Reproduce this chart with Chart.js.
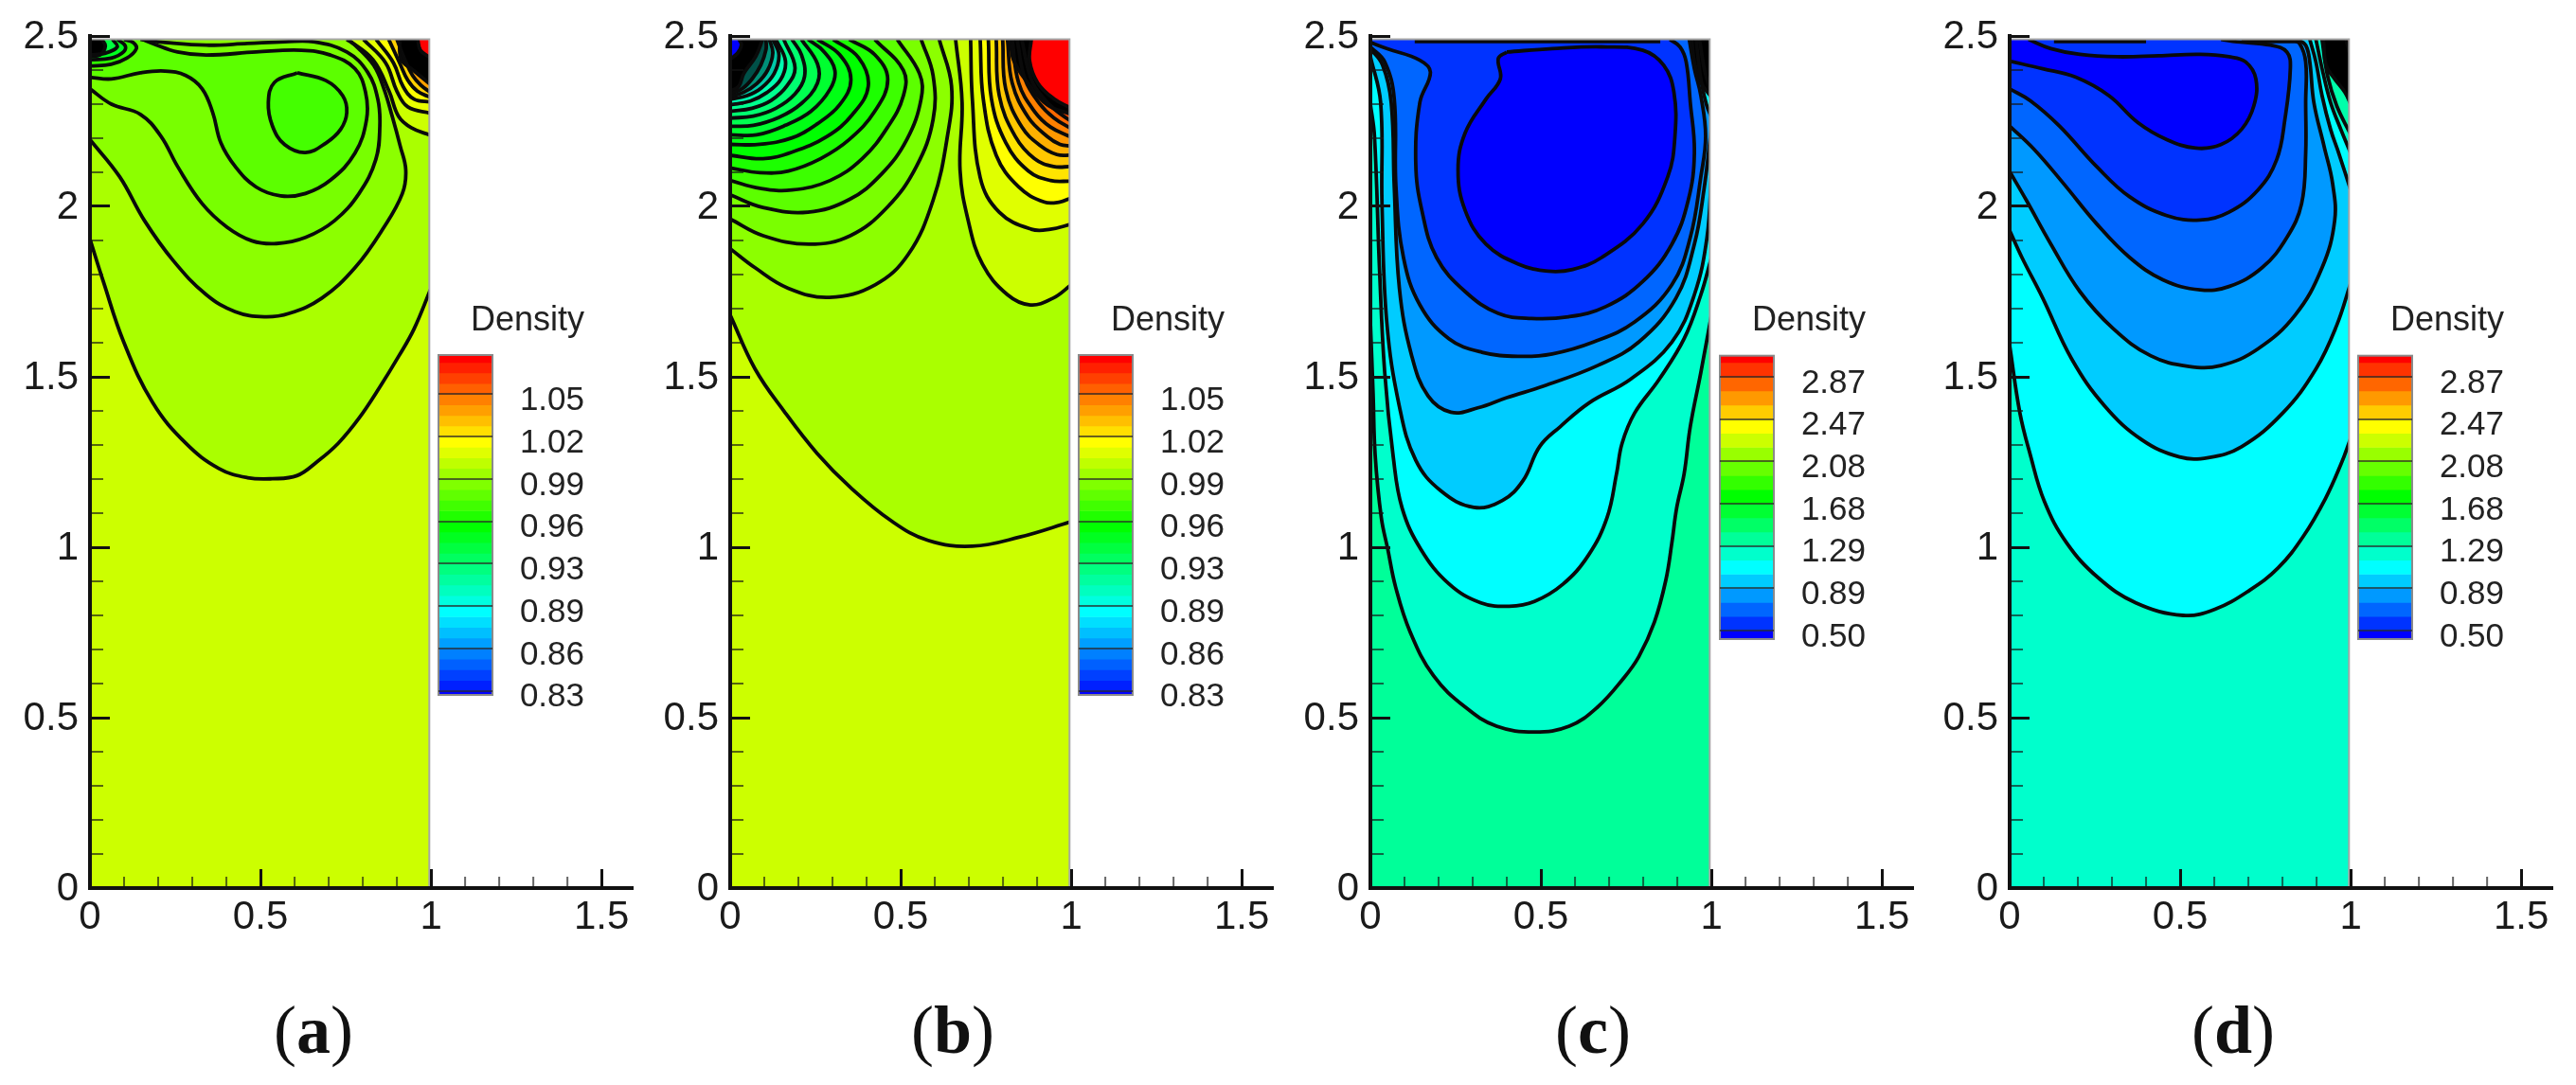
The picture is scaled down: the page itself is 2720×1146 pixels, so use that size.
<!DOCTYPE html>
<html>
<head>
<meta charset="utf-8">
<title>Density contours</title>
<script src="https://cdn.jsdelivr.net/npm/chart.js@4"></script>
<style>
  html, body { margin: 0; padding: 0; background: #fff; width: 2720px; height: 1146px; overflow: hidden; }
  canvas { position: absolute; filter: blur(0.6px); }
  .cap { position: absolute; top: 1088px; transform: translate(-50%, -50%); font: 72px/1 "Liberation Serif", serif; color: #111; }
  .cap b { font-weight: bold; }
</style>
</head>
<body>
<canvas id="plotA" width="669" height="1010" style="left:0;top:0"></canvas>
<canvas id="plotB" width="669" height="1010" style="left:676px;top:0"></canvas>
<canvas id="plotC" width="669" height="1010" style="left:1352px;top:0"></canvas>
<canvas id="plotD" width="669" height="1010" style="left:2027px;top:0"></canvas>
<canvas id="barA" width="158" height="447" style="left:461px;top:317px"></canvas>
<canvas id="barB" width="158" height="447" style="left:1137px;top:317px"></canvas>
<canvas id="barC" width="158" height="388" style="left:1814px;top:317px"></canvas>
<canvas id="barD" width="158" height="388" style="left:2488px;top:317px"></canvas>
<div class="cap" style="left:331px">(<b>a</b>)</div>
<div class="cap" style="left:1006px">(<b>b</b>)</div>
<div class="cap" style="left:1682px">(<b>c</b>)</div>
<div class="cap" style="left:2358px">(<b>d</b>)</div>

<script>
// axis ticks
const xTicks = [0, 0.5, 1, 1.5];
const yTicks = [0, 0.5, 1, 1.5, 2, 2.5];
const xMinor = [0.1, 0.2, 0.3, 0.4, 0.6, 0.7, 0.8, 0.9, 1.1, 1.2, 1.3, 1.4];
const yMinor = [0.1, 0.2, 0.3, 0.4, 0.6, 0.7, 0.8, 0.9, 1.1, 1.2, 1.3, 1.4, 1.6, 1.7, 1.8, 1.9, 2.1, 2.2, 2.3, 2.4];

// domain is cut a bit short of the ticks in the picture
const TOP = 2.49;
const RIGHT = 0.995;
const frame = [[0, TOP], [RIGHT, TOP], [RIGHT, 0]];

// panel (a) contour lines, [x, y]
const a1 = [[0,1.904],[.039,1.78],[.099,1.602],[.184,1.424],[.281,1.305],[.378,1.231],[.462,1.204],[.535,1.201],[.607,1.21],[.665,1.25],[.728,1.305],[.79,1.38],[.85,1.47],[.905,1.56],[.95,1.64],[1,1.76]];
const a2 = [[0,2.196],[.087,2.087],[.16,1.958],[.245,1.84],[.341,1.741],[.426,1.691],[.511,1.676],[.584,1.686],[.68,1.731],[.777,1.82],[.862,1.939],[.916,2.038],[.926,2.107],[.91,2.176],[.886,2.265],[.862,2.345],[.832,2.414],[.777,2.473],[.753,2.49]];
const a3 = [[0,2.345],[.063,2.3],[.148,2.27],[.208,2.206],[.257,2.117],[.329,2.008],[.402,1.939],[.475,1.899],[.547,1.891],[.632,1.909],[.717,1.958],[.789,2.038],[.838,2.137],[.85,2.236],[.844,2.315],[.814,2.394],[.753,2.453],[.656,2.483],[.571,2.483],[.462,2.478],[.341,2.473],[.22,2.481],[.148,2.49]];
const a4 = [[0,2.379],[.063,2.374],[.148,2.392],[.22,2.397],[.281,2.384],[.329,2.345],[.36,2.275],[.384,2.186],[.426,2.117],[.487,2.057],[.559,2.031],[.632,2.038],[.705,2.077],[.777,2.156],[.811,2.255],[.808,2.335],[.777,2.404],[.705,2.444],[.62,2.458],[.487,2.453],[.341,2.444],[.257,2.453],[.184,2.478],[.154,2.49]];
const a5 = [[.608,2.392],[.692,2.369],[.741,2.325],[.753,2.275],[.735,2.226],[.692,2.186],[.632,2.158],[.571,2.181],[.535,2.236],[.523,2.305],[.541,2.364],[.608,2.392]];
const aLeft1 = [[0,2.412],[.062,2.417],[.108,2.435],[.136,2.463],[.126,2.481],[.1,2.49]];
const aLeft2 = [[0,2.43],[.062,2.435],[.099,2.454],[.103,2.472],[.08,2.49]];
const aLeft3 = [[0,2.444],[.043,2.449],[.08,2.468],[.066,2.49]];
const aLeftDense = [[0,2.44],[.03,2.445],[.045,2.47],[.035,2.49]];
const aRight1 = [[.756,2.49],[.83,2.43],[.877,2.338],[.905,2.264],[.942,2.231],[1,2.208]];
const aRight2 = [[.802,2.49],[.867,2.421],[.9,2.338],[.932,2.292],[1,2.273]];
const aRight3 = [[.839,2.49],[.89,2.421],[.918,2.352],[.95,2.315],[1,2.306]];
const aRight4 = [[.876,2.49],[.908,2.421],[.932,2.37],[.96,2.338],[1,2.319]];
const aRight5 = [[.9,2.49],[.923,2.431],[.946,2.384],[.97,2.356],[1,2.333]];
const aRightDense = [[.908,2.49],[.913,2.431],[.95,2.398],[1,2.356]];
const aRightRed = [[.961,2.49],[.969,2.458],[1,2.435]];
const contoursA = [a1, a2, a3, a4, a5, aLeft1, aLeft2, aLeft3, aLeftDense, aRight1, aRight2, aRight3, aRight4, aRight5, aRightDense, aRightRed];
const colorsA = ['#aaff00', '#8cff00', '#78ff00', '#5cff00', '#44ff00', '#30ff00', '#00ff20', '#00ff40', '#000000', '#ccff00', '#e8ff00', '#ffff00', '#ffd000', '#ffa000', '#000000', '#ff0000'];
const baseA = '#ccff00';

// panel (b) contour lines
const b0 = [[0,1.681],[.073,1.523],[.158,1.399],[.255,1.275],[.352,1.176],[.473,1.077],[.58,1.02],[.71,1.003],[.85,1.03],[1,1.075]];
const bL1 = [[0,1.876],[.073,1.82],[.17,1.76],[.291,1.733],[.425,1.77],[.522,1.859],[.595,2.018],[.637,2.206],[.649,2.354],[.613,2.49]];
const bL2 = [[0,1.963],[.097,1.914],[.231,1.889],[.352,1.914],[.461,1.998],[.546,2.117],[.595,2.255],[.595,2.384],[.56,2.49]];
const bL3 = [[0,2.034],[.096,1.997],[.228,1.983],[.349,2.02],[.443,2.094],[.518,2.196],[.56,2.316],[.555,2.39],[.49,2.49]];
const bL4 = [[0,2.076],[.087,2.053],[.181,2.048],[.293,2.076],[.387,2.14],[.462,2.233],[.508,2.325],[.508,2.399],[.424,2.49]];
const bL5 = [[0,2.113],[.087,2.099],[.171,2.104],[.265,2.14],[.349,2.196],[.424,2.279],[.462,2.372],[.424,2.445],[.349,2.49]];
const bL6 = [[0,2.15],[.096,2.14],[.181,2.159],[.284,2.205],[.359,2.27],[.405,2.353],[.377,2.436],[.302,2.49]];
const bL7 = [[0,2.182],[.087,2.182],[.181,2.201],[.255,2.242],[.321,2.298],[.354,2.372],[.321,2.445],[.256,2.49]];
const bL8 = [[0,2.21],[.078,2.21],[.162,2.238],[.237,2.279],[.293,2.344],[.307,2.399],[.274,2.455],[.228,2.49]];
const bL9 = [[0,2.235],[.068,2.238],[.143,2.261],[.209,2.302],[.256,2.362],[.256,2.418],[.209,2.49]];
const bL10 = [[0,2.259],[.068,2.265],[.134,2.288],[.19,2.33],[.218,2.381],[.209,2.445],[.181,2.49]];
const bL11 = [[0,2.279],[.064,2.288],[.12,2.311],[.166,2.353],[.19,2.408],[.157,2.49]];
const bL12 = [[0,2.298],[.059,2.309],[.106,2.333],[.148,2.372],[.162,2.427],[.134,2.49]];
const bL13 = [[0,2.314],[.05,2.325],[.092,2.348],[.129,2.39],[.143,2.445],[.125,2.49]];
const bL14 = [[0,2.322],[.04,2.335],[.078,2.36],[.11,2.4],[.125,2.45],[.115,2.49]];
const bL15 = [[0,2.33],[.035,2.345],[.065,2.375],[.09,2.415],[.105,2.46],[.105,2.49]];
const bLeftDense = [[0,2.338],[.025,2.352],[.04,2.39],[.075,2.44],[.095,2.49]];
const bLeftBlue = [[0,2.432],[.022,2.45],[.033,2.474],[.026,2.49]];
const bR1 = [[.661,2.49],[.68,2.305],[.674,2.107],[.698,1.958],[.74,1.83],[.813,1.741],[.88,1.711],[.947,1.731],[1,1.77]];
const bR2 = [[.705,2.49],[.71,2.316],[.733,2.085],[.789,1.983],[.883,1.933],[.939,1.933],[1,1.948]];
const bR3 = [[.733,2.49],[.742,2.316],[.78,2.15],[.846,2.057],[.92,2.013],[.967,2.013],[1,2.025]];
const bR4 = [[.757,2.49],[.766,2.316],[.808,2.187],[.874,2.104],[.939,2.076],[1,2.074]];
const bR5 = [[.78,2.49],[.789,2.325],[.836,2.205],[.892,2.14],[.948,2.117],[1,2.117]];
const bR6 = [[.799,2.49],[.808,2.344],[.855,2.233],[.911,2.177],[.958,2.152],[1,2.15]];
const bR7 = [[.813,2.49],[.827,2.362],[.874,2.261],[.93,2.205],[.967,2.182],[1,2.177]];
const bR8 = [[.827,2.49],[.846,2.362],[.892,2.279],[.939,2.233],[1,2.203]];
const bR9 = [[.841,2.49],[.865,2.372],[.907,2.302],[.949,2.26],[1,2.228]];
const bR10 = [[.855,2.49],[.883,2.372],[.92,2.316],[.958,2.279],[1,2.25]];
const bRightDense = [[.822,2.49],[.831,2.429],[.873,2.362],[.93,2.298],[1,2.27]];
const bRightRed = [[.883,2.49],[.878,2.427],[.902,2.362],[.949,2.316],[1,2.288]];
const contoursB = [b0, bL1, bL2, bL3, bL4, bL5, bL6, bL7, bL8, bL9, bL10, bL11, bL12, bL13, bL14, bL15, bLeftDense, bLeftBlue, bR1, bR2, bR3, bR4, bR5, bR6, bR7, bR8, bR9, bR10, bRightDense, bRightRed];
const colorsB = ['#aaff00', '#8cff00', '#7aff00', '#5cff00', '#3cff00', '#1cff00', '#00ff00', '#00ff14', '#00ff30', '#00ff50', '#00ff70', '#00ff90', '#00ffb0', '#00c8a8', '#009078', '#005048', '#000000', '#0000ff', '#ccff00', '#e0ff00', '#ffff00', '#ffe400', '#ffc800', '#ffb000', '#ff9800', '#ff8000', '#ff6800', '#ff4800', '#000000', '#ff0000'];
const baseB = '#ccff00';

// panel (c) contour lines
const c1 = [[0,1.66],[.008,1.45],[.014,1.27],[.032,1.087],[.051,.994],[.074,.883],[.116,.753],[.185,.623],[.278,.531],[.37,.475],[.481,.458],[.583,.475],[.665,.53],[.741,.614],[.787,.679],[.833,.781],[.866,.902],[.884,1.013],[.898,1.115],[.92,1.216],[.938,1.354],[.969,1.513],[1,1.681]];
const c2 = [[0,2.3],[.012,2.206],[.027,1.81],[.042,1.513],[.067,1.265],[.093,1.115],[.148,.994],[.231,.892],[.324,.837],[.407,.827],[.481,.841],[.565,.892],[.639,.976],[.694,1.087],[.722,1.217],[.738,1.305],[.775,1.394],[.847,1.493],[.92,1.612],[.969,1.741],[1,1.85]];
const c3 = [[0,2.44],[.03,2.305],[.034,2.008],[.048,1.661],[.085,1.413],[.133,1.255],[.206,1.166],[.303,1.117],[.387,1.137],[.448,1.196],[.496,1.295],[.557,1.354],[.642,1.424],[.763,1.493],[.884,1.602],[.95,1.741],[.987,1.909],[1,2.097]];
const c4 = [[0,2.463],[.036,2.414],[.061,2.305],[.07,2.057],[.085,1.76],[.121,1.562],[.169,1.444],[.236,1.396],[.315,1.409],[.4,1.439],[.508,1.473],[.666,1.533],[.787,1.602],[.896,1.731],[.95,1.889],[.978,2.048],[1,2.231]];
const c5 = [[0,2.468],[.042,2.424],[.07,2.315],[.075,2.057],[.097,1.85],[.145,1.711],[.23,1.612],[.327,1.572],[.436,1.56],[.533,1.567],[.654,1.602],[.775,1.661],[.884,1.77],[.938,1.909],[.969,2.087],[.983,2.206],[.969,2.325],[.95,2.404],[.935,2.49]];
const c6 = [[0,2.481],[.048,2.463],[.145,2.429],[.176,2.394],[.145,2.305],[.133,2.127],[.151,1.988],[.194,1.85],[.278,1.75],[.375,1.686],[.472,1.671],[.581,1.676],[.69,1.706],[.799,1.78],[.884,1.889],[.932,2.018],[.95,2.156],[.938,2.305],[.926,2.424],[.908,2.468],[.878,2.49]];
const c7 = [[.4,2.453],[.533,2.463],[.678,2.468],[.799,2.458],[.86,2.414],[.89,2.335],[.893,2.206],[.872,2.087],[.799,1.949],[.678,1.85],[.593,1.815],[.521,1.81],[.436,1.83],[.339,1.889],[.278,1.988],[.257,2.107],[.278,2.216],[.339,2.315],[.381,2.374],[.375,2.434],[.4,2.453]];
const cRight1 = [[.955,2.49],[.968,2.38],[.985,2.3],[1,2.262]];
const cRight2 = [[.965,2.49],[.98,2.4],[1,2.33]];
const cRightDense = [[.942,2.49],[.95,2.424],[.969,2.364],[1,2.32]];
const cRightRed = [[.99,2.49],[1,2.47]];
const contoursC = [c1, c2, c3, c4, c5, c6, c7, cRight1, cRight2, cRightDense, cRightRed];
const colorsC = ['#00ffcc', '#00ffff', '#00ccff', '#0099ff', '#0066ff', '#0033ff', '#0000ff', '#00ffff', '#00ff99', '#000000', '#ff0000'];
const baseC = '#00ff99';
const cTopLine = [[.13,2.484],[.5,2.484],[.85,2.484]];

// panel (d) contour lines
const d1 = [[0,1.592],[.03,1.394],[.06,1.273],[.102,1.134],[.167,1.013],[.259,.911],[.37,.837],[.509,.8],[.602,.818],[.704,.874],[.787,.939],[.861,1.032],[.926,1.143],[.972,1.245],[1,1.32]];
const d2 = [[0,1.929],[.036,1.85],[.097,1.731],[.182,1.552],[.279,1.414],[.388,1.315],[.498,1.265],[.583,1.263],[.68,1.295],[.801,1.394],[.898,1.523],[.959,1.651],[1,1.775]];
const d3 = [[0,2.102],[.049,2.018],[.121,1.889],[.206,1.75],[.303,1.642],[.413,1.562],[.522,1.531],[.619,1.533],[.728,1.582],[.837,1.681],[.916,1.82],[.953,1.958],[.947,2.067],[.922,2.176],[.892,2.305],[.88,2.424],[.868,2.473],[.843,2.49]];
const d4 = [[0,2.236],[.073,2.166],[.158,2.067],[.255,1.949],[.352,1.85],[.449,1.785],[.558,1.755],[.643,1.765],[.74,1.82],[.813,1.909],[.856,2.008],[.868,2.156],[.868,2.305],[.868,2.424],[.85,2.478],[.825,2.49]];
const d5 = [[0,2.345],[.061,2.31],[.146,2.236],[.255,2.117],[.352,2.028],[.461,1.973],[.558,1.96],[.643,1.983],[.728,2.048],[.783,2.137],[.807,2.255],[.823,2.404],[.813,2.453],[.765,2.473],[.667,2.483],[.62,2.49]];
const d6 = [[.055,2.49],[.121,2.463],[.206,2.446],[.316,2.439],[.437,2.442],[.558,2.446],[.643,2.439],[.692,2.424],[.722,2.374],[.716,2.295],[.68,2.226],[.619,2.181],[.546,2.171],[.461,2.196],[.376,2.246],[.291,2.325],[.194,2.379],[.097,2.404],[0,2.426]];
const dRight1 = [[.88,2.49],[.898,2.424],[.916,2.325],[.941,2.226],[.965,2.156],[1,2.048]];
const dRight2 = [[.898,2.49],[.916,2.404],[.941,2.305],[.971,2.226],[1,2.156]];
const dRight3 = [[.916,2.49],[.932,2.384],[.959,2.295],[1,2.211]];
const dRightDense = [[.92,2.49],[.928,2.414],[.953,2.374],[.983,2.335],[1,2.3]];
const dRightRed = [[.987,2.49],[1,2.434]];
const contoursD = [d1, d2, d3, d4, d5, d6, dRight1, dRight2, dRight3, dRightDense, dRightRed];
const colorsD = ['#00ffff', '#00ccff', '#0099ff', '#0066ff', '#0033ff', '#0000ff', '#00ffff', '#00ffcc', '#00ffaa', '#000000', '#ff0000'];
const baseD = '#00ffcc';
const dTopLine = [[.13,2.484],[.4,2.484]];
const dTopLine2 = [[.68,2.484],[.85,2.484]];

// colour bars: (a) and (b) share one, (c) and (d) share one
const barEdges1 = [1.0836, 1.078, 1.07, 1.062, 1.054, 1.046, 1.038, 1.03, 1.022, 1.014, 1.006, .998, .99, .982, .974, .966, .958, .95, .942, .934, .926, .918, .91, .902, .894, .886, .878, .87, .862, .854, .846, .838, .83, .827];
const barColors1 = ['#ff0000', '#ff2000', '#ff4000', '#ff6000', '#ff8000', '#ff9f00', '#ffbf00', '#ffdf00', '#ffff00', '#dfff00', '#bfff00', '#9fff00', '#80ff00', '#60ff00', '#40ff00', '#20ff00', '#00ff00', '#00ff20', '#00ff40', '#00ff60', '#00ff80', '#00ff9f', '#00ffbf', '#00ffdf', '#00ffff', '#00dfff', '#00bfff', '#009fff', '#0080ff', '#0060ff', '#0040ff', '#0020ff', '#0000ff'];
const barTicks1 = [.83, .862, .894, .926, .958, .99, 1.022, 1.054];
const barLabels1 = ['0.83', '0.86', '0.89', '0.93', '0.96', '0.99', '1.02', '1.05'];

const barEdges2 = [3.068, 3.005, 2.87, 2.738, 2.606, 2.475, 2.343, 2.212, 2.08, 1.948, 1.817, 1.685, 1.553, 1.422, 1.29, 1.158, 1.027, .895, .763, .632, .5, .421];
const barColors2 = ['#ff0000', '#ff3300', '#ff6600', '#ff9900', '#ffcc00', '#ffff00', '#ccff00', '#99ff00', '#66ff00', '#33ff00', '#00ff00', '#00ff33', '#00ff66', '#00ff99', '#00ffcc', '#00ffff', '#00ccff', '#0099ff', '#0066ff', '#0033ff', '#0000ff'];
const barTicks2 = [.5, .895, 1.29, 1.685, 2.08, 2.475, 2.87];
const barLabels2 = ['0.50', '0.89', '1.29', '1.68', '2.08', '2.47', '2.87'];

const LINE = '#0a0a0a';
const AXIS = '#111';
const FONT = '"Liberation Sans", Arial, sans-serif';

function toPoints(list) {
  return list.map(p => ({ x: p[0], y: p[1] }));
}

// keeps the plot area where the picture has it, labels may stick out
function noLabelMargins(s) {
  s.paddingLeft = 0;
  s.paddingRight = 0;
  s.paddingTop = 0;
  s.paddingBottom = 0;
}

// fills the region behind each contour, back to front
const contourFill = {
  id: 'contourFill',
  beforeDatasetsDraw(chart, args, opts) {
    const { ctx, scales: { x, y } } = chart;
    const px = v => x.getPixelForValue(v);
    const py = v => y.getPixelForValue(v);
    ctx.save();
    ctx.beginPath();
    ctx.rect(px(0), py(TOP), px(RIGHT) - px(0), py(0) - py(TOP));
    ctx.clip();
    ctx.fillStyle = opts.base;
    ctx.fillRect(px(0), py(TOP), px(RIGHT) - px(0), py(0) - py(TOP));
    chart.data.datasets.forEach((ds, i) => {
      if (!ds.regionColor) return;
      const first = ds.data[0];
      const last = ds.data[ds.data.length - 1];
      ctx.beginPath();
      chart.getDatasetMeta(i).dataset.path(ctx);
      if (first.x === 0 && last.x === 1) {
        ctx.lineTo(px(1), py(TOP));
        ctx.lineTo(px(0), py(TOP));
      } else if (first.x === 0 || last.x === 0) {
        ctx.lineTo(px(0), py(TOP));
      } else if (last.x === 1) {
        ctx.lineTo(px(1), py(TOP));
      }
      ctx.closePath();
      ctx.fillStyle = ds.regionColor;
      ctx.fill();
    });
    ctx.restore();
  },
  beforeDatasetDraw(chart, args) {
    if (!chart.data.datasets[args.index].inside) return;
    const { ctx, scales: { x, y } } = chart;
    ctx.save();
    ctx.beginPath();
    ctx.rect(x.getPixelForValue(0), y.getPixelForValue(TOP), x.getPixelForValue(RIGHT) - x.getPixelForValue(0), y.getPixelForValue(0) - y.getPixelForValue(TOP));
    ctx.clip();
  },
  afterDatasetDraw(chart, args) {
    if (chart.data.datasets[args.index].inside) chart.ctx.restore();
  },
  // short inner ticks, chart.js only gives one tick length per axis
  afterDatasetsDraw(chart) {
    const { ctx, scales: { x, y } } = chart;
    ctx.save();
    ctx.strokeStyle = 'rgba(20,20,20,0.65)';
    ctx.lineWidth = 2;
    ctx.beginPath();
    xMinor.forEach(v => {
      ctx.moveTo(x.getPixelForValue(v), y.getPixelForValue(0));
      ctx.lineTo(x.getPixelForValue(v), y.getPixelForValue(0) - 12);
    });
    yMinor.forEach(v => {
      ctx.moveTo(x.getPixelForValue(0), y.getPixelForValue(v));
      ctx.lineTo(x.getPixelForValue(0) + 14, y.getPixelForValue(v));
    });
    ctx.stroke();
    ctx.restore();
  }
};

const barFrame = {
  id: 'barFrame',
  afterDatasetsDraw(chart) {
    const { ctx, chartArea: a } = chart;
    ctx.save();
    ctx.strokeStyle = '#8a8a8a';
    ctx.lineWidth = 2;
    ctx.strokeRect(a.left, a.top, a.right - a.left, a.bottom - a.top);
    ctx.restore();
  }
};

function drawPlot(id, contours, colors, base, topLines) {
  const datasets = contours.map((c, i) => ({
    data: toPoints(c),
    regionColor: colors[i],
    inside: true,
    showLine: true,
    borderColor: LINE,
    borderWidth: 3.8,
    pointRadius: 0,
    tension: 0.4
  }));
  topLines.forEach(l => datasets.push({
    data: toPoints(l),
    inside: true,
    showLine: true,
    borderColor: LINE,
    borderWidth: 3.8,
    pointRadius: 0
  }));
  datasets.push({
    data: toPoints(frame),
    order: -1,
    showLine: true,
    borderColor: '#a6a6a6',
    borderWidth: 2,
    pointRadius: 0,
    tension: 0
  });

  new Chart(document.getElementById(id), {
    type: 'scatter',
    data: { datasets },
    plugins: [contourFill],
    options: {
      responsive: false,
      animation: false,
      events: [],
      layout: { padding: { top: 38 } },
      plugins: {
        legend: { display: false },
        tooltip: { enabled: false },
        contourFill: { base }
      },
      scales: {
        x: {
          type: 'linear',
          min: 0,
          max: 1.594,
          afterBuildTicks: s => { s.ticks = xTicks.map(v => ({ value: v })); },
          afterFit: s => { s.height = 72; noLabelMargins(s); },
          border: { color: AXIS, width: 4, z: 2 },
          grid: { drawOnChartArea: false, tickLength: -20, tickWidth: 3, tickColor: AXIS, z: 1 },
          ticks: { color: '#1a1a1a', font: { family: FONT, size: 42 }, padding: 26, autoSkip: false, maxRotation: 0, callback: v => String(v) }
        },
        y: {
          type: 'linear',
          min: 0,
          max: 2.5,
          afterBuildTicks: s => { s.ticks = yTicks.map(v => ({ value: v })); },
          afterFit: s => { s.width = 95; noLabelMargins(s); },
          border: { color: AXIS, width: 4, z: 2 },
          grid: { drawOnChartArea: false, tickLength: -21, tickWidth: 3, tickColor: AXIS, z: 1 },
          ticks: { color: '#1a1a1a', font: { family: FONT, size: 42 }, padding: 33, labelOffset: 1, autoSkip: false, callback: v => String(v) }
        }
      }
    }
  });
}

function drawBar(id, edges, colors, ticks, labels, titleGap) {
  const datasets = colors.map((c, i) => ({
    data: [[edges[i + 1], edges[i]]],
    backgroundColor: c,
    borderWidth: 0,
    barPercentage: 1,
    categoryPercentage: 1
  }));
  new Chart(document.getElementById(id), {
    type: 'bar',
    data: { labels: ['Density'], datasets },
    plugins: [barFrame],
    options: {
      responsive: false,
      animation: false,
      events: [],
      layout: { padding: { left: 2, right: 2, bottom: 30 } },
      plugins: {
        legend: { display: false },
        tooltip: { enabled: false },
        title: {
          display: true,
          text: 'Density',
          align: 'end',
          color: '#222',
          font: { family: FONT, size: 36, weight: 'normal', lineHeight: 1.2 },
          padding: { top: 0, bottom: titleGap }
        }
      },
      scales: {
        x: { stacked: true, display: false },
        y: {
          position: 'right',
          min: edges[edges.length - 1],
          max: edges[0],
          afterBuildTicks: s => { s.ticks = ticks.map(v => ({ value: v })); },
          afterFit: s => { s.width = 97; noLabelMargins(s); },
          border: { display: false },
          grid: { color: 'rgba(40,40,40,0.7)', lineWidth: 2, drawTicks: false, z: 1 },
          ticks: {
            color: '#222',
            font: { family: FONT, size: 35 },
            padding: 26,
            labelOffset: 7,
            crossAlign: 'far',
            autoSkip: false,
            callback: (v, i) => labels[i]
          }
        }
      }
    }
  });
}

drawPlot('plotA', contoursA, colorsA, baseA, []);
drawPlot('plotB', contoursB, colorsB, baseB, []);
drawPlot('plotC', contoursC, colorsC, baseC, [cTopLine]);
drawPlot('plotD', contoursD, colorsD, baseD, [dTopLine, dTopLine2]);

drawBar('barA', barEdges1, barColors1, barTicks1, barLabels1, 14.8);
drawBar('barB', barEdges1, barColors1, barTicks1, barLabels1, 14.8);
drawBar('barC', barEdges2, barColors2, barTicks2, barLabels2, 15.5);
drawBar('barD', barEdges2, barColors2, barTicks2, barLabels2, 15.5);
</script>
</body>
</html>
